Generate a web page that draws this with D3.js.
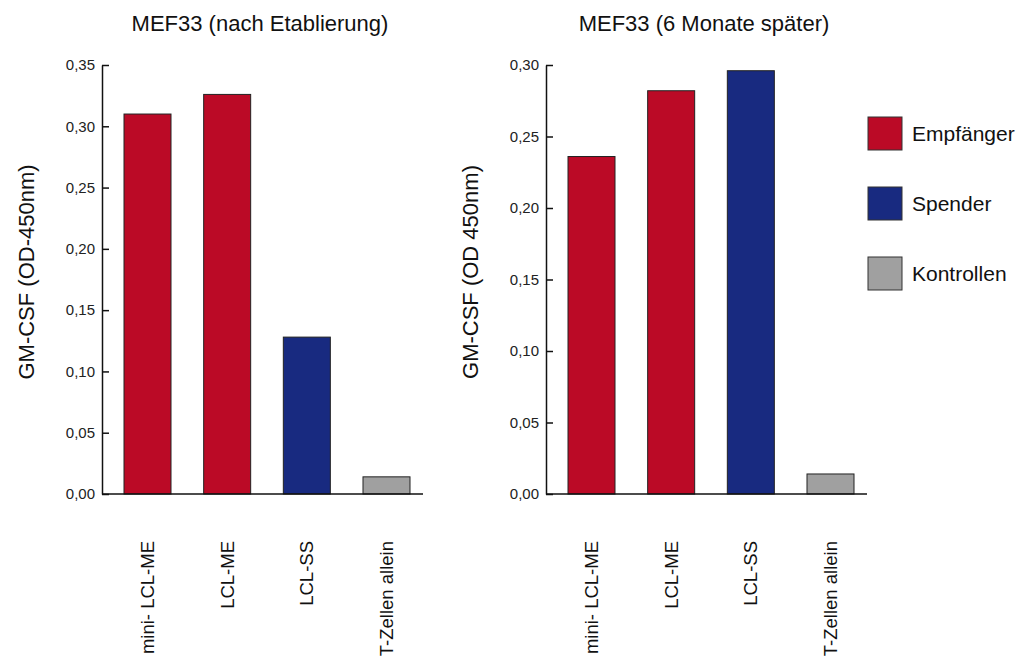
<!DOCTYPE html>
<html>
<head>
<meta charset="utf-8">
<script src="https://cdn.jsdelivr.net/npm/d3@7"></script>
<style>
  body { margin: 0; background: #fff; }
  svg { font-family: "Liberation Sans", Arial, sans-serif; }
</style>
</head>
<body>
<div id="chart"></div>
<script>
// Data
const categories = ["mini- LCL-ME", "LCL-ME", "LCL-SS", "T-Zellen allein"];
const groups = ["Empfänger", "Empfänger", "Spender", "Kontrollen"];
const valuesEtablierung = [0.310, 0.326, 0.128, 0.014];
const valuesSpaeter = [0.236, 0.282, 0.296, 0.014];
const ticksEtablierung = [0, 0.05, 0.10, 0.15, 0.20, 0.25, 0.30, 0.35];
const ticksSpaeter = [0, 0.05, 0.10, 0.15, 0.20, 0.25, 0.30];
const legendItems = ["Empfänger", "Spender", "Kontrollen"];

const color = d3.scaleOrdinal()
  .domain(legendItems)
  .range(["#bb0a26", "#182a80", "#a0a0a0"]);

const width = 1021, height = 657;
const plotTop = 65, plotBottom = 494;

const svg = d3.select("#chart").append("svg")
  .attr("width", width)
  .attr("height", height);

const fmt = v => d3.format(".2f")(v).replace(".", ",");

function drawPanel(axisX, values, ticks, yMax, title, yLabel) {
  const g = svg.append("g");

  const x = d3.scaleBand()
    .domain(categories)
    .range([axisX + 22, axisX + 308])
    .paddingInner(0.41)
    .paddingOuter(0);

  const y = d3.scaleLinear().domain([0, yMax]).range([plotBottom, plotTop]);

  // bars
  g.selectAll(".bar")
    .data(categories)
    .enter().append("rect")
    .attr("class", "bar")
    .attr("x", d => x(d))
    .attr("width", x.bandwidth())
    .attr("y", (d, i) => y(values[i]))
    .attr("height", (d, i) => plotBottom - y(values[i]))
    .attr("fill", (d, i) => color(groups[i]))
    .attr("stroke", "#222")
    .attr("stroke-width", 1);

  // baseline
  g.append("line")
    .attr("x1", axisX)
    .attr("x2", axisX + 321)
    .attr("y1", plotBottom)
    .attr("y2", plotBottom)
    .attr("stroke", "#111")
    .attr("stroke-width", 1.5);

  // y axis, ticks pointing inward
  const yAxis = d3.axisLeft(y)
    .tickValues(ticks)
    .tickFormat(fmt)
    .tickSizeInner(-7)
    .tickSizeOuter(0)
    .tickPadding(7);

  const ya = g.append("g")
    .attr("transform", "translate(" + axisX + ",0)")
    .call(yAxis);
  ya.selectAll("path, line").attr("stroke", "#111").attr("stroke-width", 1.5);
  ya.selectAll("text")
    .attr("font-size", 15)
    .attr("fill", "#222")
    .attr("font-family", "Liberation Sans, Arial, sans-serif");

  // category labels
  g.selectAll(".xlabel")
    .data(categories)
    .enter().append("text")
    .attr("class", "xlabel")
    .attr("transform", d => "translate(" + (x(d) + x.bandwidth() / 2) + ",541) rotate(-90)")
    .attr("text-anchor", "end")
    .attr("dy", "0.35em")
    .attr("font-size", 18.5)
    .attr("fill", "#111")
    .text(d => d);

  // title
  g.append("text")
    .attr("x", axisX + 158)
    .attr("y", 31)
    .attr("text-anchor", "middle")
    .attr("font-size", 22)
    .attr("fill", "#111")
    .text(title);

  // y label
  g.append("text")
    .attr("transform", "translate(" + (axisX - 76) + "," + 272 + ") rotate(-90)")
    .attr("text-anchor", "middle")
    .attr("dy", "0.35em")
    .attr("font-size", 22)
    .attr("fill", "#111")
    .text(yLabel);
}

drawPanel(102, valuesEtablierung, ticksEtablierung, 0.35, "MEF33 (nach Etablierung)", "GM-CSF (OD-450nm)");
drawPanel(546, valuesSpaeter, ticksSpaeter, 0.30, "MEF33 (6 Monate später)", "GM-CSF (OD 450nm)");

// legend
const legend = svg.append("g")
  .selectAll("g")
  .data(legendItems)
  .enter().append("g")
  .attr("transform", (d, i) => "translate(868," + (117 + i * 70) + ")");

legend.append("rect")
  .attr("width", 34)
  .attr("height", 33)
  .attr("fill", d => color(d))
  .attr("stroke", "#333")
  .attr("stroke-width", 1);

legend.append("text")
  .attr("x", 44)
  .attr("y", 16.5)
  .attr("dy", "0.35em")
  .attr("font-size", 21)
  .attr("fill", "#111")
  .text(d => d);
</script>
</body>
</html>
